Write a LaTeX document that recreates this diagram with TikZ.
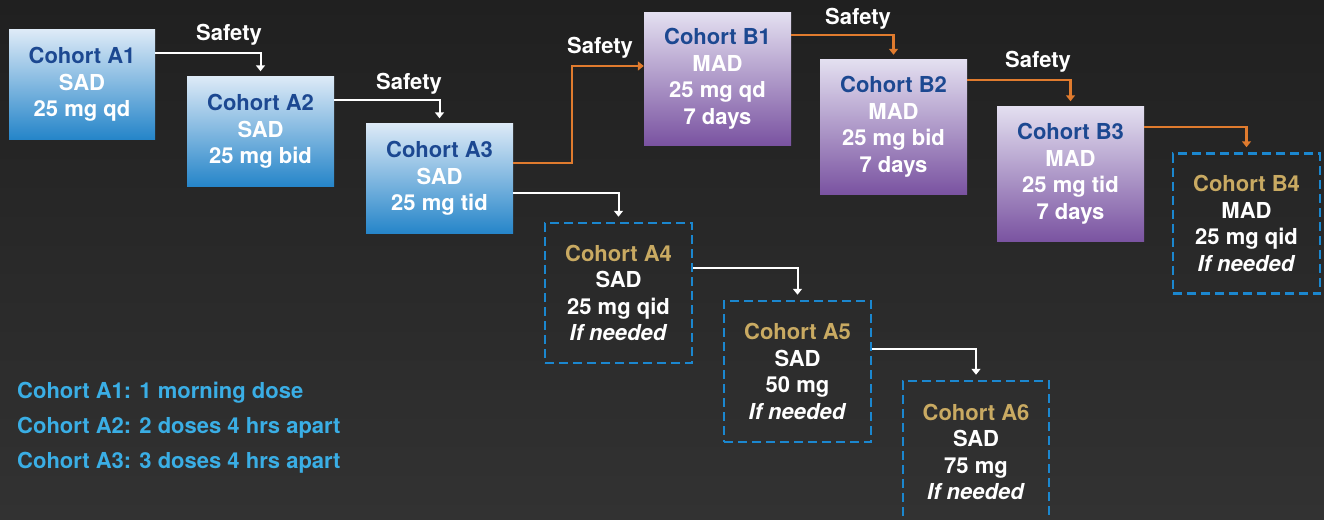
\documentclass[tikz,border=0pt]{standalone}
\usepackage{fontspec}
\setmainfont{TeX Gyre Heros}
\usetikzlibrary{arrows.meta}
\definecolor{bgtop}{HTML}{202020}
\definecolor{bgbot}{HTML}{323232}
\definecolor{bltop}{HTML}{DDEAF7}
\definecolor{blbot}{HTML}{2585C9}
\definecolor{putop}{HTML}{E3DFF0}
\definecolor{pubot}{HTML}{7A53A1}
\definecolor{ttl}{HTML}{1C4891}
\definecolor{gold}{HTML}{C9AA62}
\definecolor{org}{HTML}{E07B2E}
\definecolor{dashblue}{HTML}{1B87CF}
\definecolor{legend}{HTML}{3AAEE5}
\begin{document}
\begin{tikzpicture}[x=1pt,y=-1pt,
  box/.style={minimum width=147pt,inner sep=0pt,align=center,text=white,
    font=\fontsize{22}{26.5}\selectfont\bfseries},
  bluebox/.style={box,top color=bltop,bottom color=blbot},
  purplebox/.style={box,top color=putop,bottom color=pubot},
  optbox/.style={box,draw=dashblue,line width=2.5pt,dash pattern=on 9pt off 5pt},
  wline/.style={draw=white,line width=2pt,-{Triangle[width=9pt,length=6pt]}},
  oline/.style={draw=org,line width=2.5pt,-{Triangle[width=9pt,length=6pt]}},
  lbl/.style={anchor=base,text=white,font=\fontsize{22}{26.5}\selectfont\bfseries},
  leg/.style={anchor=base west,inner sep=0pt,text=legend,font=\fontsize{22}{26.5}\selectfont\bfseries}]
\shade[top color=bgtop,bottom color=bgbot] (0,0) rectangle (1324,519);
\useasboundingbox (0,0) rectangle (1324,519);
\clip (0,0) rectangle (1324,519);

\node[bluebox,minimum width=146pt,minimum height=109pt] (A1) at (82,84.5)
  {\textcolor{ttl}{Cohort A1}\\SAD\\25 mg qd};
\node[bluebox,minimum height=110pt] (A2) at (260.5,131.5)
  {\textcolor{ttl}{Cohort A2}\\SAD\\25 mg bid};
\node[bluebox,minimum height=110pt] (A3) at (439.5,178.5)
  {\textcolor{ttl}{Cohort A3}\\SAD\\25 mg tid};
\node[purplebox,minimum height=132pt] (B1) at (717.5,79)
  {\textcolor{ttl}{Cohort B1}\\MAD\\25 mg qd\\7 days};
\node[purplebox,minimum height=134pt] (B2) at (893.5,127)
  {\textcolor{ttl}{Cohort B2}\\MAD\\25 mg bid\\7 days};
\node[purplebox,minimum height=135pt] (B3) at (1070.5,174)
  {\textcolor{ttl}{Cohort B3}\\MAD\\25 mg tid\\7 days};
\node[optbox,minimum height=140pt] (B4) at (1246.5,223.5)
  {\textcolor{gold}{Cohort B4}\\MAD\\25 mg qid\\\textit{If needed}};
\node[optbox,minimum height=140pt] (A4) at (618.5,293)
  {\textcolor{gold}{Cohort A4}\\SAD\\25 mg qid\\\textit{If needed}};
\node[optbox,minimum height=141pt] (A5) at (797.5,371.5)
  {\textcolor{gold}{Cohort A5}\\SAD\\50 mg\\\textit{If needed}};
\node[optbox,minimum width=146pt,minimum height=142pt] (A6) at (976,452)
  {\textcolor{gold}{Cohort A6}\\SAD\\75 mg\\\textit{If needed}};

\draw[wline] (A1.east |- 0,53) -| ([yshift=5pt]A2.north);
\draw[wline] (A2.east |- 0,100) -| ([yshift=5pt]A3.north);
\draw[wline] (A3.east |- 0,193) -| ([yshift=5pt]A4.north);
\draw[wline] (A4.east |- 0,268) -| ([yshift=5pt]A5.north);
\draw[wline] (A5.east |- 0,349) -| ([yshift=5pt]A6.north);
\coordinate (bend) at (572,66);
\draw[oline] (A3.east |- 0,163) -| (bend) -- (B1.west |- bend);
\draw[oline] (B1.east |- 0,35) -| ([yshift=5pt]B2.north);
\draw[oline] (B2.east |- 0,80) -| ([yshift=5pt]B3.north);
\draw[oline] (B3.east |- 0,127) -| ([yshift=5pt]B4.north);

\node[lbl] (s1) at (229,41) {Safety};
\node[lbl] (s2) at (409,89.5) {Safety};
\node[lbl] (s3) at (600,54) {Safety};
\node[lbl] (s4) at (858,24.5) {Safety};
\node[lbl] (s5) at (1038,67.5) {Safety};

\node[leg] (l1) at (17,398) {Cohort A1: 1 morning dose};
\node[leg] (l2) at (17,433) {Cohort A2: 2 doses 4 hrs apart};
\node[leg] (l3) at (17,468) {Cohort A3: 3 doses 4 hrs apart};
\end{tikzpicture}
\end{document}
